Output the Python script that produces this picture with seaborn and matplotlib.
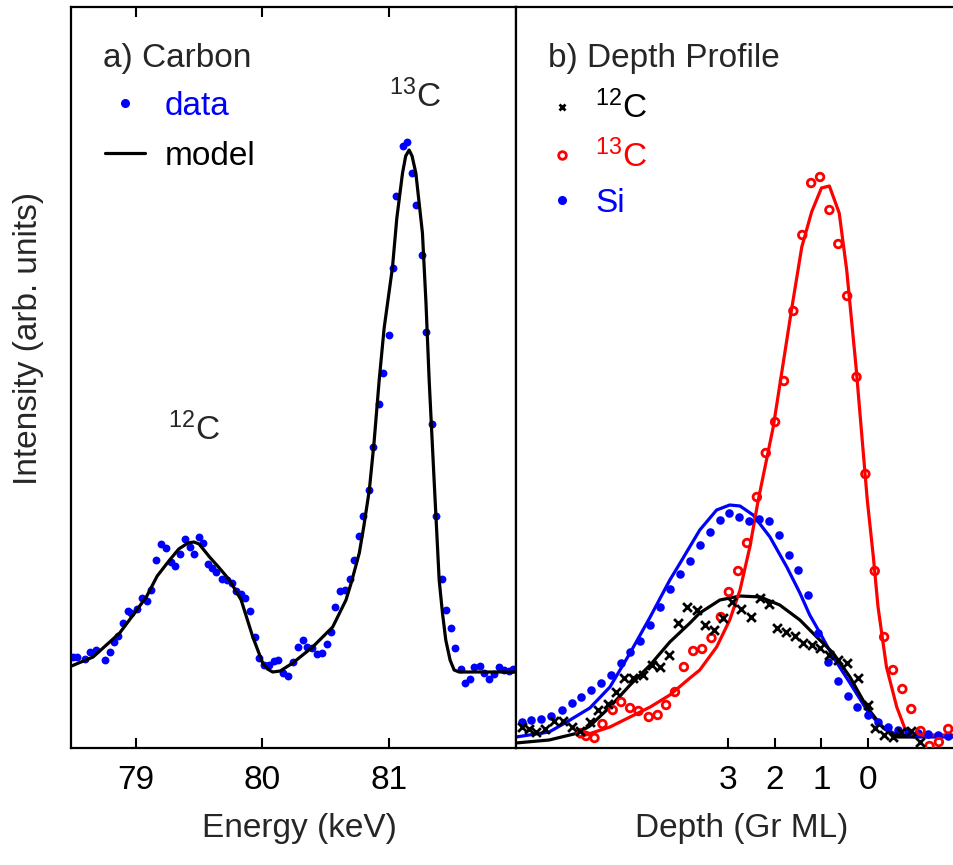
import numpy as np
import pandas as pd
import seaborn as sns
import matplotlib.pyplot as plt
from matplotlib.lines import Line2D

# a) Carbon spectrum
carbon_energy = [78.506, 78.538, 78.598, 78.643, 78.685, 78.756, 78.795, 78.827, 78.861, 78.900,
                 78.939, 78.966, 79.013, 79.050, 79.092, 79.124, 79.163, 79.202, 79.236, 79.276,
                 79.313, 79.352, 79.386, 79.425, 79.459, 79.498, 79.535, 79.569, 79.604, 79.635,
                 79.680, 79.719, 79.758, 79.793, 79.832, 79.866, 79.903, 79.945, 79.976, 80.016,
                 80.050, 80.089, 80.126, 80.165, 80.202, 80.239, 80.278, 80.317, 80.349, 80.388,
                 80.428, 80.467, 80.506, 80.541, 80.575, 80.612, 80.651, 80.691, 80.724, 80.764,
                 80.795, 80.843, 80.874, 80.916, 80.953, 81.000, 81.031, 81.057, 81.105, 81.144,
                 81.179, 81.210, 81.257, 81.294, 81.336, 81.368, 81.415, 81.451, 81.486, 81.520,
                 81.565, 81.596, 81.638, 81.669, 81.714, 81.748, 81.787, 81.827, 81.866, 81.906,
                 81.945, 81.976]
carbon_counts = [91, 91, 89, 96, 98, 88, 96, 106, 112, 125,
                 137, 135, 139, 150, 147, 158, 188, 204, 200, 186,
                 182, 194, 209, 201, 194, 211, 205, 184, 180, 176,
                 169, 168, 165, 157, 154, 150, 137, 111, 90, 83,
                 83, 87, 88, 75, 72, 86, 101, 108, 101, 100,
                 94, 95, 104, 116, 141, 157, 158, 169, 188, 212,
                 232, 258, 301, 344, 375, 413, 480, 552, 602, 606,
                 575, 543, 493, 416, 324, 232, 169, 138, 120, 100,
                 79, 65, 69, 81, 82, 75, 69, 74, 81, 78,
                 77, 79]

model_energy = [78.494, 78.664, 78.874, 78.98, 79.084, 79.17, 79.268, 79.34, 79.412, 79.46,
                79.50, 79.583, 79.66, 79.740, 79.832, 79.924, 80.002, 80.04, 80.081, 80.14,
                80.239, 80.396, 80.554, 80.659, 80.70, 80.764, 80.80, 80.843, 80.88, 80.921,
                80.96, 81.026, 81.06, 81.105, 81.13, 81.157, 81.18, 81.210, 81.262, 81.29,
                81.315, 81.354, 81.394, 81.42, 81.446, 81.48, 81.512, 81.551, 81.998]
model_counts = [82, 91, 115, 133, 151, 172, 188, 199, 205, 206,
                204, 191, 180, 168, 148, 111, 85, 79, 76, 77,
                85, 101, 121, 148, 165, 195, 222, 258, 305, 368,
                420, 481, 530, 575, 592, 598, 592, 575, 515, 445,
                368, 268, 168, 135, 108, 88, 78, 76, 76]

# b) depth profile
si_depth = [7.40, 7.21, 6.99, 6.78, 6.55, 6.34, 6.13, 5.92, 5.71, 5.50,
            5.28, 5.09, 4.87, 4.66, 4.44, 4.24, 4.02, 3.81, 3.60, 3.38,
            3.17, 2.97, 2.76, 2.55, 2.34, 2.13, 1.91, 1.70, 1.50, 1.28,
            1.07, 0.85, 0.65, 0.44, 0.23, 0.01, -0.21, -0.43, -0.64, -0.85,
            -1.07, -1.28, -1.50, -1.71]
si_counts = [26, 28, 29, 32, 38, 45, 51, 58, 65, 73,
             85, 96, 107, 123, 141, 159, 174, 187, 203, 216,
             228, 235, 231, 227, 229, 227, 213, 193, 178, 153,
             115, 86, 67, 52, 41, 33, 26, 21, 18, 16,
             15, 14, 13, 12]
si_fit_depth = [7.53, 6.82, 6.48, 5.95, 5.52, 5.09, 4.66, 4.24, 4.02, 3.60,
                3.24, 2.96, 2.74, 2.46, 2.10, 1.74, 1.46, 1.25, 1.03, 0.75,
                0.39, 0.03, -0.25, -0.61, -1.03, -2.00]
si_fit = [11, 16, 25, 40, 61, 95, 131, 168, 185, 218,
          238, 243, 242, 233, 211, 181, 155, 133, 115, 91,
          65, 38, 23, 13, 11, 11]

c12_depth = [7.41, 7.25, 7.09, 6.91, 6.71, 6.52, 6.34, 6.16, 5.95, 5.77,
             5.57, 5.39, 5.21, 5.02, 4.82, 4.63, 4.45, 4.25, 4.06, 3.87,
             3.67, 3.49, 3.29, 3.10, 2.91, 2.71, 2.51, 2.31, 2.12, 1.94,
             1.76, 1.57, 1.39, 1.21, 1.03, 0.84, 0.65, 0.46, 0.21, 0.01,
             -0.14, -0.34, -0.53, -0.71, -0.91, -1.10]
c12_counts = [21, 19, 16, 19, 27, 27, 21, 17, 26, 38,
              44, 56, 70, 70, 73, 83, 81, 93, 125, 141,
              138, 123, 118, 130, 146, 139, 131, 150, 144, 120,
              116, 112, 105, 103, 100, 93, 88, 85, 70, 43,
              20, 13, 11, 16, 17, 6]
c12_fit_depth = [7.53, 6.82, 6.20, 5.95, 5.52, 5.09, 4.66, 4.24, 3.81, 3.60,
                 3.17, 2.74, 2.31, 1.89, 1.46, 1.10, 0.75, 0.39, 0.03, -0.32,
                 -0.61, -1.03]
c12_fit = [5, 8, 15, 22, 41, 63, 83, 106, 125, 135,
           148, 152, 151, 143, 128, 111, 95, 71, 41, 20,
           11, 11]

c13_depth = [6.15, 6.03, 5.85, 5.68, 5.46, 5.28, 5.09, 4.91, 4.69, 4.50,
             4.32, 4.13, 3.94, 3.74, 3.55, 3.35, 3.15, 2.98, 2.78, 2.59,
             2.38, 2.19, 1.99, 1.80, 1.60, 1.41, 1.22, 1.03, 0.83, 0.64,
             0.45, 0.25, 0.06, -0.14, -0.34, -0.53, -0.73, -0.92, -1.12, -1.31,
             -1.51, -1.71]
c13_counts = [15, 12, 10, 24, 38, 46, 40, 37, 31, 33,
              43, 56, 81, 97, 99, 110, 131, 156, 177, 205,
              251, 295, 326, 367, 437, 513, 565, 571, 538, 504,
              452, 371, 274, 177, 111, 78, 59, 39, 17, 2,
              6, 19]
c13_fit_depth = [6.17, 5.52, 5.09, 4.66, 4.24, 3.81, 3.60, 3.24, 2.96, 2.74,
                 2.53, 2.35, 2.03, 1.64, 1.42, 1.21, 1.00, 0.83, 0.62, 0.46,
                 0.26, 0.02, -0.11, -0.21, -0.39, -0.61, -0.78, -1.03, -2.00]
c13_fit = [11, 21, 31, 41, 53, 70, 78, 101, 128, 158,
           201, 248, 321, 438, 501, 536, 560, 562, 535, 478,
           381, 248, 191, 141, 81, 41, 20, 13, 13]

sns.set_theme(style="white")
plt.rcParams['font.family'] = ['Liberation Sans', 'DejaVu Sans']
plt.rcParams['mathtext.default'] = 'regular'

W, H = 954, 865
fig = plt.figure(figsize=(W / 100, H / 100), dpi=100)
ax1 = fig.add_axes([71 / W, 117 / H, 445 / W, 741 / H])
ax2 = fig.add_axes([516 / W, 117 / H, 450 / W, 741 / H])

# ---- a) Carbon
sns.scatterplot(x=carbon_energy, y=carbon_counts, ax=ax1, color='blue', s=32,
                linewidth=0, zorder=2)
sns.lineplot(x=model_energy, y=model_counts, ax=ax1, color='black', lw=2.3,
             sort=False, estimator=None, zorder=3)
ax1.set_xlim(78.49, 82.0)
ax1.set_ylim(0, 741)
ax1.set_xticks([79, 80, 81])
ax1.set_yticks([])
ax1.tick_params(axis='x', direction='in', top=True, bottom=True, length=7,
                width=1.5, labelsize=24, pad=12, colors='black')
ax1.set_xlabel('Energy (keV)', fontsize=24)
ax1.xaxis.set_label_coords(0.514, -0.088)
ax1.set_ylabel('Intensity (arb. units)', fontsize=24)
ax1.yaxis.set_label_coords(-0.06, 0.553)
ax1.text(0.072, 0.919, 'a) Carbon', transform=ax1.transAxes, fontsize=24,
         va='baseline', ha='left')
ax1.text(81.20, 651, '$^{13}$C', fontsize=24, ha='center', va='center')
ax1.text(79.46, 318, '$^{12}$C', fontsize=24, ha='center', va='center')
h1 = [Line2D([], [], marker='o', color='blue', ls='none', markersize=5.5),
      Line2D([], [], color='black', lw=2.3)]
ax1.legend(h1, ['data', 'model'], loc='upper left', bbox_to_anchor=(0.076, 0.887),
           frameon=False, fontsize=24, handlelength=1.2, handletextpad=0.6,
           labelspacing=0.57, borderpad=0, borderaxespad=0,
           labelcolor=['blue', 'black'])

# ---- b) Depth profile
sns.lineplot(x=si_fit_depth, y=si_fit, ax=ax2, color='blue', lw=2.3,
             sort=False, estimator=None, zorder=2)
sns.lineplot(x=c12_fit_depth, y=c12_fit, ax=ax2, color='black', lw=2.3,
             sort=False, estimator=None, zorder=3)
sns.lineplot(x=c13_fit_depth, y=c13_fit, ax=ax2, color='red', lw=2.3,
             sort=False, estimator=None, zorder=4)
sns.scatterplot(x=si_depth, y=si_counts, ax=ax2, color='blue', s=38,
                linewidth=0, zorder=5)
sns.scatterplot(x=c13_depth, y=c13_counts, ax=ax2, marker='o', s=30,
                facecolor='none', edgecolor='red', linewidth=2.0, zorder=6)
sns.scatterplot(x=c12_depth, y=c12_counts, ax=ax2, marker='x', s=40,
                color='black', linewidth=2.0, zorder=7)
ax2.set_xlim(7.528, -2.09)
ax2.set_ylim(0, 741)
ax2.set_xticks([3, 2, 1, 0])
ax2.set_yticks([])
ax2.tick_params(axis='x', direction='in', top=False, bottom=True, length=7,
                width=1.5, labelsize=24, pad=12, colors='black')
ax2.set_xlabel('Depth (Gr ML)', fontsize=24)
ax2.xaxis.set_label_coords(0.502, -0.088)
ax2.text(0.072, 0.919, 'b) Depth Profile', transform=ax2.transAxes, fontsize=24,
         va='baseline', ha='left')
h2 = [Line2D([], [], marker='x', color='black', ls='none', markersize=5, mew=2.0),
      Line2D([], [], marker='o', color='red', mfc='none', ls='none', markersize=5.5, mew=2.0),
      Line2D([], [], marker='o', color='blue', ls='none', markersize=5.5)]
ax2.legend(h2, ['$^{12}$C', '$^{13}$C', 'Si'], loc='upper left',
           bbox_to_anchor=(0.058, 0.887), frameon=False, fontsize=24,
           handlelength=1.2, handletextpad=0.4, labelspacing=0.42, borderpad=0,
           borderaxespad=0, labelcolor=['black', 'red', 'blue'])

for ax in (ax1, ax2):
    for side in ax.spines.values():
        side.set_color('black')
        side.set_linewidth(1.6)

fig.savefig('out.png', dpi=100)
